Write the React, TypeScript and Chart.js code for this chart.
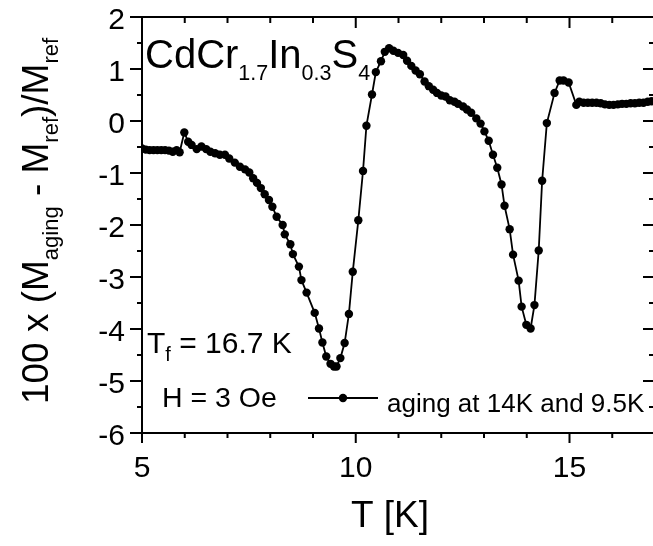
import React, { useEffect, useRef } from "react";
import { Chart, registerables } from "chart.js";

Chart.register(...registerables);

// ---- data ----
const temperatureK = [
  5.0, 5.09, 5.18, 5.27, 5.36, 5.45, 5.54, 5.63, 5.72, 5.81, 5.88,
  5.99, 6.08, 6.16, 6.28, 6.39, 6.5, 6.6, 6.71, 6.82, 6.94,
  7.04, 7.17, 7.29, 7.41, 7.51, 7.6, 7.69, 7.78, 7.87, 7.97,
  8.05, 8.15, 8.29, 8.34, 8.47, 8.53, 8.67, 8.73, 8.85, 9.04,
  9.14, 9.22, 9.31, 9.41, 9.49, 9.55, 9.64, 9.74, 9.84, 9.93,
  10.06, 10.17, 10.25, 10.38, 10.47, 10.59, 10.68, 10.78, 10.88, 10.99,
  11.11, 11.2, 11.3, 11.4, 11.5, 11.61, 11.71, 11.81, 11.9, 12.0,
  12.1, 12.2, 12.31, 12.39, 12.51, 12.6, 12.7, 12.82, 12.92, 13.01,
  13.11, 13.21, 13.31, 13.41, 13.48, 13.6, 13.68, 13.81, 13.88, 13.99,
  14.09, 14.18, 14.28, 14.36, 14.47, 14.65, 14.77, 14.86, 14.98, 15.16,
  15.23, 15.33, 15.43, 15.53, 15.63, 15.73, 15.83, 15.93, 16.03, 16.13,
  16.23, 16.33, 16.43, 16.53, 16.63, 16.73, 16.83, 16.92,
];
const deltaM = [
  -0.53, -0.55, -0.56, -0.56, -0.56, -0.56, -0.56, -0.57, -0.59, -0.56, -0.6,
  -0.22, -0.4, -0.46, -0.54, -0.49, -0.54, -0.59, -0.62, -0.65, -0.65,
  -0.72, -0.8, -0.88, -0.93, -0.99, -1.1, -1.19, -1.29, -1.41, -1.52,
  -1.65, -1.84, -2.0, -2.18, -2.37, -2.56, -2.8, -3.06, -3.3, -3.69,
  -3.99, -4.26, -4.53, -4.67, -4.72, -4.72, -4.56, -4.27, -3.71, -2.9,
  -1.91, -0.96, -0.09, 0.51, 0.94, 1.15, 1.33, 1.4, 1.35, 1.31,
  1.27, 1.16, 1.06, 0.97, 0.9, 0.76, 0.67, 0.6, 0.54, 0.49,
  0.47, 0.4, 0.37, 0.33, 0.28, 0.22, 0.16, 0.05, -0.05, -0.2,
  -0.38, -0.65, -0.9, -1.22, -1.63, -2.08, -2.57, -3.07, -3.57, -3.92,
  -3.99, -3.54, -2.49, -1.15, -0.04, 0.54, 0.78, 0.78, 0.74, 0.31,
  0.37, 0.35, 0.35, 0.35, 0.35, 0.34, 0.32, 0.31, 0.31, 0.32,
  0.33, 0.33, 0.34, 0.34, 0.35, 0.35, 0.37, 0.38,
];

const xMin = 5;
const xMax = 17;
const yMin = -6;
const yMax = 2;
const xMajorTicks = [5, 10, 15];
const xMinorTicks = [6, 7, 8, 9, 11, 12, 13, 14, 16];
const yMajorTicks = [-6, -5, -4, -3, -2, -1, 0, 1, 2];
const yMinorTicks = [-5.5, -4.5, -3.5, -2.5, -1.5, -0.5, 0.5, 1.5];

const legendLabel = "aging at 14K and 9.5K";
const xTitle = "T [K]";
const FONT = "'Liberation Sans', Arial, Helvetica, sans-serif";

type Part = { t: string; size: number; dy: number };

function drawRich(ctx: CanvasRenderingContext2D, x: number, y: number, parts: Part[], align: "left" | "center" = "left") {
  let total = 0;
  for (const p of parts) {
    ctx.font = `${p.size}px ${FONT}`;
    total += ctx.measureText(p.t).width;
  }
  let cx = align === "center" ? x - total / 2 : x;
  for (const p of parts) {
    ctx.font = `${p.size}px ${FONT}`;
    ctx.fillText(p.t, cx, y + p.dy);
    cx += ctx.measureText(p.t).width;
  }
}

const overlayPlugin = {
  id: "overlay",
  afterDraw(chart: any) {
    const ctx: CanvasRenderingContext2D = chart.ctx;
    const { left, right, top, bottom } = chart.chartArea;
    const xs = chart.scales.x;
    const ys = chart.scales.y;
    ctx.save();
    ctx.strokeStyle = "#000";
    ctx.lineWidth = 2;
    ctx.strokeRect(left, top, right - left, bottom - top);
    ctx.beginPath();
    for (const v of xMajorTicks) {
      const px = xs.getPixelForValue(v);
      ctx.moveTo(px, bottom);
      ctx.lineTo(px, bottom + 10);
      ctx.moveTo(px, top);
      ctx.lineTo(px, top + 11);
    }
    for (const v of xMinorTicks) {
      const px = xs.getPixelForValue(v);
      ctx.moveTo(px, bottom);
      ctx.lineTo(px, bottom + 5);
      ctx.moveTo(px, top);
      ctx.lineTo(px, top + 6);
    }
    for (const v of yMajorTicks) {
      const py = ys.getPixelForValue(v);
      ctx.moveTo(left - 12, py);
      ctx.lineTo(left, py);
      ctx.moveTo(right - 12, py);
      ctx.lineTo(right, py);
    }
    for (const v of yMinorTicks) {
      const py = ys.getPixelForValue(v);
      ctx.moveTo(left - 5, py);
      ctx.lineTo(left, py);
      ctx.moveTo(right - 6, py);
      ctx.lineTo(right, py);
    }
    ctx.stroke();

    ctx.fillStyle = "#000";
    ctx.textBaseline = "alphabetic";
    ctx.textAlign = "left";

    // compound name
    drawRich(ctx, 145, 68, [
      { t: "CdCr", size: 40, dy: 0 },
      { t: "1.7", size: 21.5, dy: 12 },
      { t: "In", size: 40, dy: 0 },
      { t: "0.3", size: 21.5, dy: 12 },
      { t: "S", size: 40, dy: 0 },
      { t: "4", size: 21.5, dy: 12 },
    ]);

    // T_f
    drawRich(ctx, 147, 352.5, [
      { t: "T", size: 30, dy: 0 },
      { t: "f", size: 20, dy: 8 },
      { t: " = 16.7 K", size: 30, dy: 0 },
    ]);

    // H
    drawRich(ctx, 162, 406.5, [{ t: "H = 3 Oe", size: 28.5, dy: 0 }]);

    // legend sample
    ctx.lineWidth = 1.8;
    ctx.beginPath();
    ctx.moveTo(308, 398);
    ctx.lineTo(378, 398);
    ctx.stroke();
    ctx.beginPath();
    ctx.arc(343, 398, 4.2, 0, Math.PI * 2);
    ctx.fill();
    drawRich(ctx, 387, 411.5, [{ t: legendLabel, size: 26, dy: 0 }]);

    // x title
    drawRich(ctx, 390, 527, [{ t: xTitle, size: 37, dy: 0 }], "center");

    // y title (rotated)
    ctx.translate(47.5, 221);
    ctx.rotate(-Math.PI / 2);
    drawRich(
      ctx,
      0,
      0,
      [
        { t: "100 x (M", size: 37, dy: 0 },
        { t: "aging", size: 22, dy: 10 },
        { t: " - M", size: 37, dy: 0 },
        { t: "ref", size: 22, dy: 10 },
        { t: ")/M", size: 37, dy: 0 },
        { t: "ref", size: 22, dy: 10 },
      ],
      "center"
    );
    ctx.restore();
  },
};

export default function App() {
  const canvasRef = useRef<HTMLCanvasElement | null>(null);

  useEffect(() => {
    if (!canvasRef.current) return;
    const points = temperatureK.map((t, i) => ({ x: t, y: deltaM[i] }));
    const chart = new Chart(canvasRef.current, {
      type: "line",
      data: {
        datasets: [
          {
            label: legendLabel,
            data: points,
            borderColor: "#000",
            borderWidth: 1.8,
            pointRadius: 4.2,
            pointBackgroundColor: "#000",
            pointBorderWidth: 0,
            pointHoverRadius: 4.2,
            tension: 0,
          },
        ],
      },
      options: {
        animation: false,
        responsive: false,
        devicePixelRatio: 1,
        layout: { padding: { top: 17, right: 5, left: 0, bottom: 0 } },
        plugins: {
          legend: { display: false },
          tooltip: { enabled: false },
        },
        scales: {
          x: {
            type: "linear",
            min: xMin,
            max: xMax,
            grid: { display: false, drawTicks: false },
            border: { display: false },
            afterBuildTicks: (scale: any) => {
              scale.ticks = xMajorTicks.map((v) => ({ value: v }));
            },
            afterFit: (scale: any) => {
              scale.height = 113;
              scale.paddingLeft = 0;
              scale.paddingRight = 0;
              scale.paddingTop = 0;
              scale.paddingBottom = 0;
            },
            ticks: {
              padding: 18,
              color: "#000",
              font: { size: 30, family: FONT },
              maxRotation: 0,
              callback: (v: any) => String(v),
            },
          },
          y: {
            type: "linear",
            min: yMin,
            max: yMax,
            grid: { display: false, drawTicks: false },
            border: { display: false },
            afterBuildTicks: (scale: any) => {
              scale.ticks = yMajorTicks.map((v) => ({ value: v }));
            },
            afterFit: (scale: any) => {
              scale.width = 142;
              scale.paddingLeft = 0;
              scale.paddingRight = 0;
              scale.paddingTop = 0;
              scale.paddingBottom = 0;
            },
            ticks: {
              padding: 17,
              labelOffset: 4,
              color: "#000",
              font: { size: 30, family: FONT },
              callback: (v: any) => String(v),
            },
          },
        },
      },
      plugins: [overlayPlugin],
    });
    return () => chart.destroy();
  }, []);

  return (
    <div
      style={{
        position: "fixed",
        left: 0,
        top: 0,
        width: 653,
        height: 546,
        overflow: "hidden",
        background: "#fff",
      }}
    >
      <canvas ref={canvasRef} width={660} height={546} style={{ display: "block", width: 660, height: 546 }} />
    </div>
  );
}
